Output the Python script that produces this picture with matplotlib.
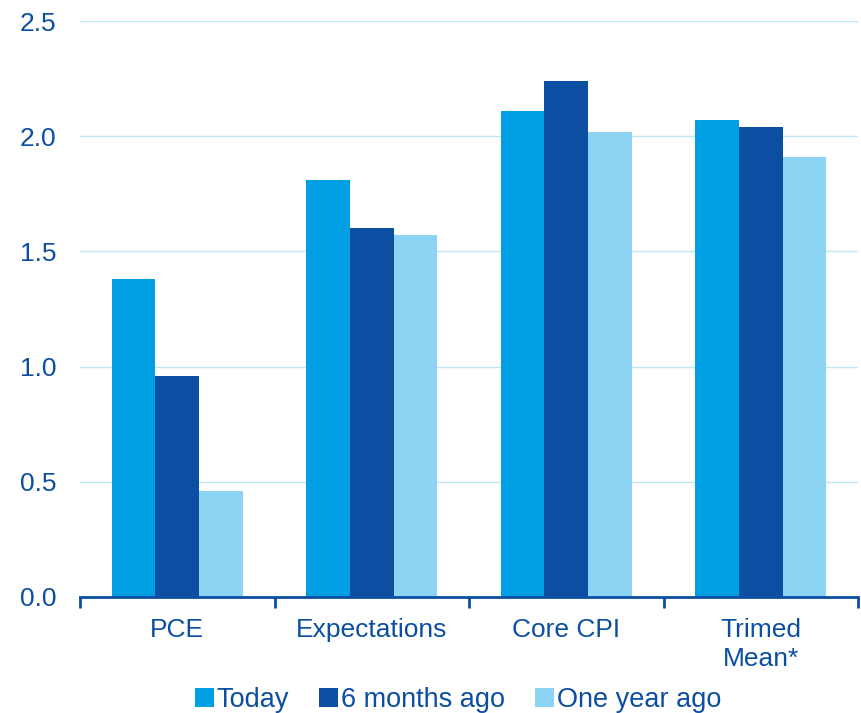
import numpy as np
import matplotlib.pyplot as plt
from matplotlib.ticker import FixedLocator

categories = ['PCE', 'Expectations', 'Core CPI', 'Trimed\nMean*']
today = [1.38, 1.81, 2.11, 2.07]
six_months = [0.96, 1.60, 2.24, 2.04]
one_year = [0.46, 1.57, 2.02, 1.91]

series_names = ['Today', '6 months ago', 'One year ago']
colors = ['#009FE3', '#0B4EA2', '#8DD3F3']
text_color = '#0B4EA2'

plt.rcParams['font.family'] = ['Liberation Sans', 'DejaVu Sans']

fig = plt.figure(figsize=(8.62, 7.13), dpi=100)
ax = fig.add_axes([0.0928, 0.1627, 0.9026, 0.8078])

x = np.arange(len(categories))
w = 0.225
for i, (vals, name) in enumerate(zip([today, six_months, one_year], series_names)):
    ax.bar(x + (i - 1) * w, vals, width=w, color=colors[i], label=name, zorder=3)

ax.set_xlim(-0.5, len(categories) - 0.5)
ax.set_ylim(0, 2.5)
ax.set_yticks(np.arange(0, 2.51, 0.5))
ax.set_yticklabels([f'{v:.1f}' for v in np.arange(0, 2.51, 0.5)])
ax.yaxis.grid(True, color='#BFE6F6', linewidth=1, zorder=0)

ax.set_xticks(x)
ax.set_xticklabels(categories, linespacing=1.25)
ax.xaxis.set_minor_locator(FixedLocator(np.arange(-0.5, len(categories), 1.0)))
ax.tick_params(axis='x', which='major', length=0, pad=15, labelsize=19, labelcolor=text_color)
ax.tick_params(axis='x', which='minor', length=8, width=2, color=text_color, direction='out')
ax.tick_params(axis='y', length=0, pad=17, labelsize=19, labelcolor=text_color)

for s in ['top', 'right', 'left']:
    ax.spines[s].set_visible(False)
ax.spines['bottom'].set_color(text_color)
ax.spines['bottom'].set_linewidth(2)
ax.spines['bottom'].set_zorder(4)

leg = ax.legend(loc='center', bbox_to_anchor=(0.486, -0.178), ncol=3, frameon=False,
                fontsize=19.5, handlelength=0.7, handleheight=0.7, handletextpad=0.12,
                columnspacing=1.1, borderaxespad=0, borderpad=0)
for t in leg.get_texts():
    t.set_color(text_color)

fig.savefig('out.png', dpi=100)
